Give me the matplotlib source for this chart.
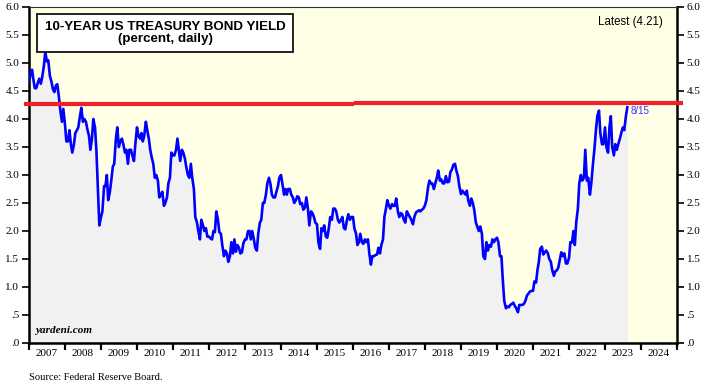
import numpy as np
import pandas as pd
import matplotlib
matplotlib.use("Agg")
import matplotlib.pyplot as plt

# 10-year yield, 1st and 15th of each month
y2007 = [4.68, 4.78, 4.88, 4.70, 4.55, 4.55, 4.65, 4.72, 4.63, 4.75, 4.95, 5.20,
         5.03, 5.05, 4.77, 4.68, 4.53, 4.48, 4.60, 4.62, 4.38, 4.15, 3.95, 4.18]
y2008 = [3.90, 3.60, 3.60, 3.80, 3.55, 3.40, 3.55, 3.75, 3.80, 3.85, 4.05, 4.20,
         3.95, 4.00, 3.95, 3.82, 3.70, 3.45, 3.65, 4.00, 3.85, 3.45, 2.75, 2.10]
y2009 = [2.25, 2.35, 2.80, 2.80, 3.00, 2.55, 2.70, 2.90, 3.15, 3.20, 3.65, 3.85,
         3.50, 3.60, 3.65, 3.55, 3.40, 3.45, 3.20, 3.45, 3.45, 3.35, 3.25, 3.55]
y2010 = [3.85, 3.70, 3.65, 3.75, 3.60, 3.70, 3.95, 3.80, 3.65, 3.45, 3.30, 3.20,
         2.95, 3.00, 2.90, 2.60, 2.65, 2.70, 2.45, 2.50, 2.60, 2.85, 2.95, 3.40]
y2011 = [3.35, 3.35, 3.45, 3.65, 3.45, 3.25, 3.45, 3.40, 3.30, 3.15, 3.00, 2.95,
         3.20, 2.95, 2.75, 2.25, 2.15, 2.00, 1.85, 2.20, 2.10, 2.00, 2.05, 1.90]
y2012 = [1.90, 1.87, 1.85, 2.00, 1.98, 2.35, 2.20, 1.98, 1.95, 1.75, 1.55, 1.65,
         1.60, 1.45, 1.55, 1.80, 1.60, 1.85, 1.63, 1.75, 1.70, 1.60, 1.62, 1.78]
y2013 = [1.85, 1.85, 2.00, 2.00, 1.85, 2.00, 1.85, 1.70, 1.65, 1.95, 2.15, 2.20,
         2.50, 2.50, 2.65, 2.85, 2.95, 2.85, 2.65, 2.60, 2.60, 2.70, 2.80, 2.95]
y2014 = [3.00, 2.85, 2.65, 2.75, 2.65, 2.75, 2.75, 2.65, 2.60, 2.50, 2.55, 2.62,
         2.60, 2.48, 2.50, 2.38, 2.42, 2.60, 2.40, 2.10, 2.35, 2.32, 2.25, 2.15]
y2015 = [2.12, 1.80, 1.68, 2.05, 2.00, 2.10, 1.90, 1.88, 2.05, 2.25, 2.20, 2.40,
         2.40, 2.35, 2.20, 2.15, 2.20, 2.25, 2.05, 2.03, 2.20, 2.30, 2.20, 2.25]
y2016 = [2.25, 2.05, 1.95, 1.75, 1.80, 1.95, 1.80, 1.77, 1.85, 1.80, 1.85, 1.60,
         1.40, 1.55, 1.55, 1.57, 1.58, 1.70, 1.60, 1.75, 1.85, 2.25, 2.40, 2.55]
y2017 = [2.45, 2.40, 2.48, 2.45, 2.45, 2.58, 2.35, 2.25, 2.32, 2.30, 2.20, 2.15,
         2.35, 2.30, 2.25, 2.20, 2.12, 2.25, 2.33, 2.35, 2.37, 2.35, 2.38, 2.40]
y2018 = [2.46, 2.55, 2.78, 2.90, 2.85, 2.85, 2.75, 2.85, 2.95, 3.08, 2.90, 2.92,
         2.85, 2.85, 2.98, 2.87, 2.88, 3.05, 3.10, 3.18, 3.20, 3.08, 2.98, 2.80]
y2019 = [2.66, 2.72, 2.68, 2.65, 2.72, 2.55, 2.45, 2.58, 2.50, 2.38, 2.15, 2.08,
         2.00, 2.08, 1.95, 1.55, 1.50, 1.80, 1.65, 1.75, 1.72, 1.85, 1.80, 1.85]
y2020 = [1.88, 1.80, 1.55, 1.55, 1.10, 0.75, 0.62, 0.65, 0.64, 0.68, 0.70, 0.72,
         0.66, 0.62, 0.55, 0.68, 0.68, 0.68, 0.70, 0.75, 0.85, 0.88, 0.92, 0.93]
y2021 = [0.93, 1.10, 1.08, 1.30, 1.45, 1.68, 1.72, 1.58, 1.62, 1.65, 1.60, 1.50,
         1.45, 1.30, 1.20, 1.28, 1.30, 1.35, 1.50, 1.62, 1.55, 1.60, 1.42, 1.42]
y2022 = [1.52, 1.80, 1.80, 2.00, 1.75, 2.15, 2.40, 2.85, 3.00, 2.90, 2.95, 3.45,
         2.90, 2.95, 2.65, 2.85, 3.20, 3.45, 3.80, 4.05, 4.15, 3.75, 3.55, 3.55]
y2023 = [3.85, 3.50, 3.40, 3.85, 4.05, 3.50, 3.35, 3.55, 3.45, 3.55, 3.65, 3.75,
         3.85, 3.80, 4.05, 4.21]

yields = (y2007 + y2008 + y2009 + y2010 + y2011 + y2012 + y2013 + y2014 + y2015
          + y2016 + y2017 + y2018 + y2019 + y2020 + y2021 + y2022 + y2023)
dates = pd.date_range("2007-01-01", periods=len(yields), freq="SMS")
years = list(range(2007, 2025))
ytick_vals = [0, 0.5, 1, 1.5, 2, 2.5, 3, 3.5, 4, 4.5, 5, 5.5, 6]
ytick_labels = [".0", ".5", "1.0", "1.5", "2.0", "2.5", "3.0", "3.5", "4.0",
                "4.5", "5.0", "5.5", "6.0"]
red_level_left = 4.26
red_level_right = 4.28

# decimal years for the x axis
x = dates.year + (dates.dayofyear - 1) / np.where(dates.is_leap_year, 366, 365)
y = np.array(yields)

fig = plt.figure(figsize=(7.18, 3.91), dpi=100)
ax = fig.add_axes([29 / 718, 48 / 391, 648 / 718, 336 / 391])
ax.set_facecolor("#FFFFE6")

ax.fill_between(x, 0, y, color="#F1F1F1", lw=0, zorder=1)
ax.plot(x, y, color="#0000FF", lw=1.9, zorder=3)

ax.plot([2006.86, 2016.03], [red_level_left] * 2, color="#EE2028", lw=3,
        solid_capstyle="butt", clip_on=False, zorder=4)
ax.plot([2016.03, 2025.17], [red_level_right] * 2, color="#EE2028", lw=3,
        solid_capstyle="butt", clip_on=False, zorder=4)

ax.set_xlim(2007, 2025)
ax.set_ylim(0, 6)

ax.set_xticks(range(2007, 2026))
ax.set_xticklabels([])
ax.set_xticks([yr + 0.5 for yr in years], minor=True)
ax.set_xticklabels([str(yr) for yr in years], minor=True,
                   fontfamily="Liberation Serif", fontsize=8)
ax.tick_params(axis="x", which="major", direction="out", length=5, width=1.6)
ax.tick_params(axis="x", which="minor", length=0, pad=4)

ax.set_yticks(ytick_vals)
ax.set_yticklabels(ytick_labels, fontfamily="Liberation Serif", fontsize=8)
ax.tick_params(axis="y", which="both", left=True, right=True, labelleft=True,
               labelright=True, direction="out", length=5, width=1.2, pad=2)

for side in ["left", "right", "bottom"]:
    ax.spines[side].set_linewidth(1.8)
ax.spines["top"].set_linewidth(0.8)
ax.spines["top"].set_color("#333333")

# title box
ax.text(0.2099, 0.9226, "10-YEAR US TREASURY BOND YIELD\n(percent, daily)",
        transform=ax.transAxes, ha="center", va="center", fontsize=9.6,
        fontweight="bold", fontfamily="Liberation Sans", linespacing=1.0,
        zorder=5,
        bbox=dict(boxstyle="square,pad=0.55", fc="white", ec="black", lw=1.2))

ax.text(0.978, 0.955, "Latest (4.21)", transform=ax.transAxes, ha="right",
        va="center", fontsize=8.3, fontfamily="Liberation Sans")
ax.text(2023.7, 4.05, "8/15", color="#3333FF", fontsize=7,
        fontfamily="Liberation Sans", va="bottom", ha="left", zorder=5)
ax.text(0.01, 0.025, "yardeni.com", transform=ax.transAxes, ha="left",
        va="bottom", fontsize=8, fontweight="bold", fontstyle="italic",
        fontfamily="Liberation Serif", zorder=5)
fig.text(29 / 718, 1 - 378 / 391, "Source: Federal Reserve Board.",
         ha="left", va="center", fontsize=7.6, fontfamily="Liberation Serif")

fig.savefig("out.png", dpi=100)
